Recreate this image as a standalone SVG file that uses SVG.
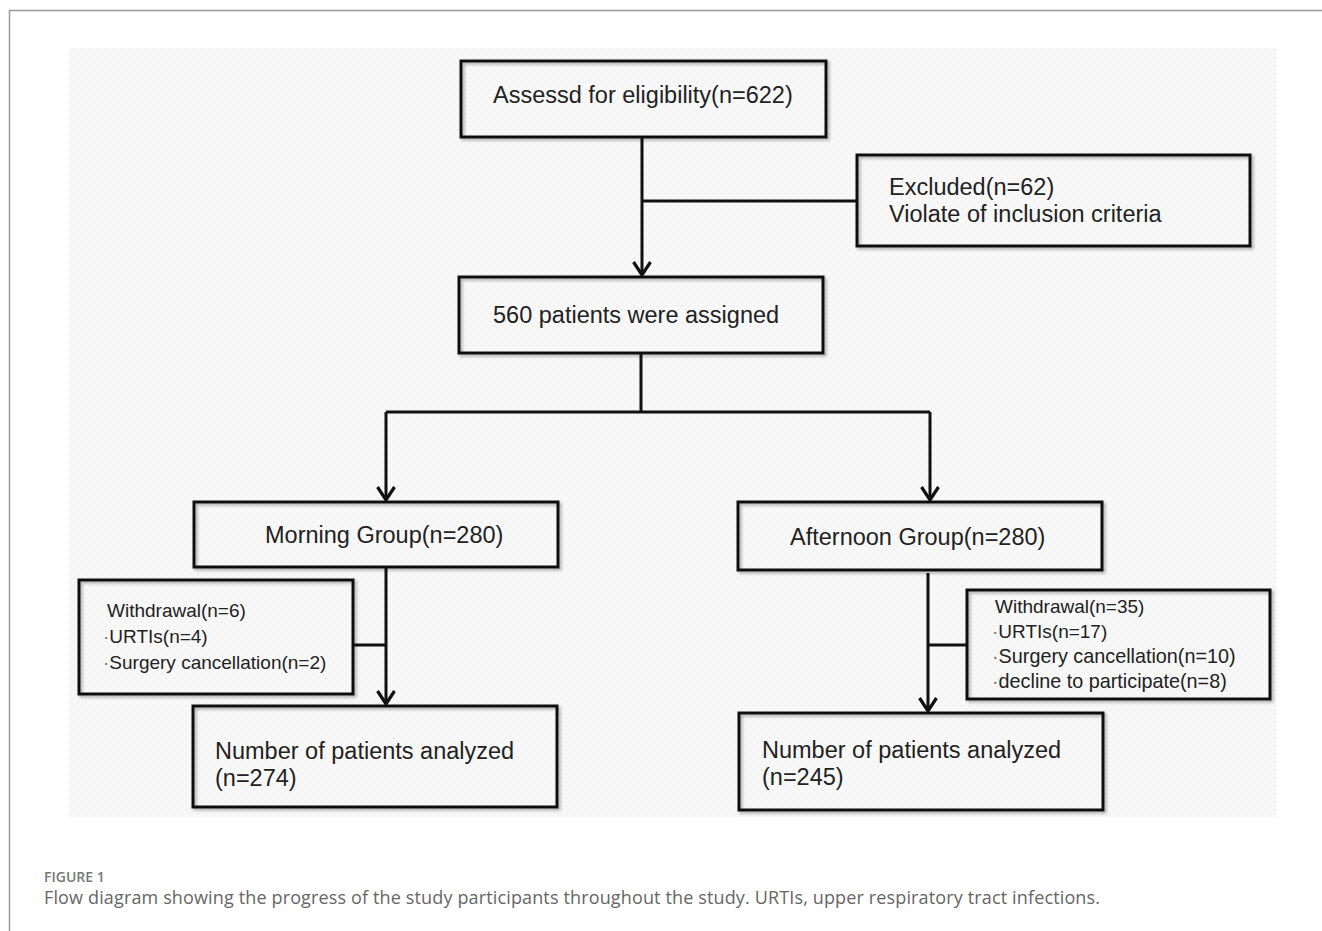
<svg xmlns="http://www.w3.org/2000/svg" width="1322" height="931" viewBox="0 0 1322 931">
<style>
.box{fill:none;stroke:#111;stroke-width:3;filter:url(#sh)}
.t{font-family:"Liberation Sans",Arial,sans-serif;font-size:23.5px;fill:#222}
.s{font-family:"Liberation Sans",Arial,sans-serif;font-size:19px;fill:#222}
.dot{fill:#777}
.ln{fill:none;stroke:#111;stroke-width:3}
.cap1{font-family:"Open Sans","Noto Sans",sans-serif;font-size:14px;font-weight:600;fill:#777}
.cap2{font-family:"Open Sans","Noto Sans",sans-serif;font-size:18px;fill:#666}
</style>
<defs>
<pattern id="dots" width="8" height="8" patternUnits="userSpaceOnUse">
<rect width="8" height="8" fill="#f8f8f8"/>
<circle cx="2" cy="2" r="1" fill="#ececec"/>
<circle cx="6" cy="6" r="1" fill="#ececec"/>
</pattern>
<filter id="sh" x="-5%" y="-10%" width="110%" height="125%">
<feDropShadow dx="2" dy="2" stdDeviation="1.5" flood-color="#000" flood-opacity="0.3"/>
</filter>
<marker id="arr" viewBox="-16 -11 18 22" refX="0" refY="0" markerWidth="18" markerHeight="22" markerUnits="userSpaceOnUse" orient="auto">
<path d="M-13,-8.5 L0,0 L-13,8.5" fill="none" stroke="#111" stroke-width="3.2"/>
</marker>
</defs>
<rect width="1322" height="931" fill="#fff"/>
<path d="M9.5,931 V10.5 H1322" fill="none" stroke="#999" stroke-width="1.5"/>
<rect x="69" y="48" width="1208" height="769" fill="url(#dots)"/>

<g id="connectors">
<path class="ln" d="M642,137 V275" marker-end="url(#arr)"/>
<path class="ln" d="M642,201 H857"/>
<path class="ln" d="M641,353 V412"/>
<path class="ln" d="M386,412 H930"/>
<path class="ln" d="M386,412 V500" marker-end="url(#arr)"/>
<path class="ln" d="M930,412 V500" marker-end="url(#arr)"/>
<path class="ln" d="M386,567 V704" marker-end="url(#arr)"/>
<path class="ln" d="M353,645 H386"/>
<path class="ln" d="M928,573 V711" marker-end="url(#arr)"/>
<path class="ln" d="M928,645 H967"/>
</g>

<g id="n1">
<rect class="box" x="461" y="61" width="365" height="76"/>
<text class="t" x="493" y="103">Assessd for eligibility(n=622)</text>
</g>
<g id="n2">
<rect class="box" x="857" y="155" width="393" height="91"/>
<text class="t" x="889" y="195">Excluded(n=62)</text>
<text class="t" x="889" y="222">Violate of inclusion criteria</text>
</g>
<g id="n3">
<rect class="box" x="459" y="277" width="364" height="76"/>
<text class="t" x="493" y="323">560 patients were assigned</text>
</g>
<g id="n4">
<rect class="box" x="194" y="502" width="364" height="65"/>
<text class="t" x="265" y="543">Morning Group(n=280)</text>
</g>
<g id="n5">
<rect class="box" x="738" y="502" width="364" height="68"/>
<text class="t" x="790" y="545">Afternoon Group(n=280)</text>
</g>
<g id="n6">
<rect class="box" x="79" y="580" width="274" height="114"/>
<text class="s" x="107" y="617">Withdrawal(n=6)</text>
<text class="s" x="103" y="643"><tspan class="dot">·</tspan>URTIs(n=4)</text>
<text class="s" x="103" y="669"><tspan class="dot">·</tspan>Surgery cancellation(n=2)</text>
</g>
<g id="n7">
<rect class="box" x="967" y="590" width="303" height="109"/>
<text class="s" x="995" y="613">Withdrawal(n=35)</text>
<text class="s" x="992" y="638"><tspan class="dot">·</tspan>URTIs(n=17)</text>
<text class="s" x="992" y="663" style="font-size:19.8px"><tspan class="dot">·</tspan>Surgery cancellation(n=10)</text>
<text class="s" x="992" y="688" style="font-size:19.8px"><tspan class="dot">·</tspan>decline to participate(n=8)</text>
</g>
<g id="n8">
<rect class="box" x="193" y="706" width="364" height="101"/>
<text class="t" x="215" y="759">Number of patients analyzed</text>
<text class="t" x="215" y="786">(n=274)</text>
</g>
<g id="n9">
<rect class="box" x="739" y="713" width="364" height="97"/>
<text class="t" x="762" y="758">Number of patients analyzed</text>
<text class="t" x="762" y="785">(n=245)</text>
</g>

<text class="cap1" x="44" y="882">FIGURE 1</text>
<text class="cap2" x="44" y="904" textLength="1056" lengthAdjust="spacing">Flow diagram showing the progress of the study participants throughout the study. URTIs, upper respiratory tract infections.</text>
</svg>
